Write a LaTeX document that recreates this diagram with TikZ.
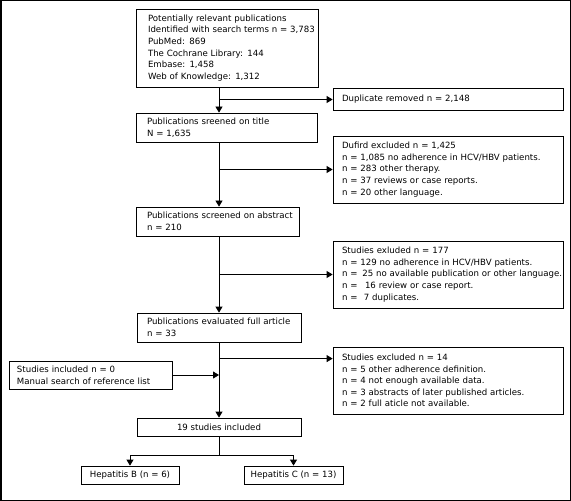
\documentclass[tikz,border=0pt]{standalone}
\usepackage{fontspec}
\setmainfont{DejaVu Sans}
\usetikzlibrary{arrows.meta}
\begin{document}
\begin{tikzpicture}[x=1bp,y=-1bp,
  font=\fontsize{8.6bp}{11.6bp}\selectfont,
  box/.style={draw, line width=0.8bp, inner ysep=0pt, align=left},
  cbox/.style={draw, line width=0.8bp, inner sep=0pt, align=center},
  arr/.style={draw, line width=0.8bp, -{Triangle[length=6bp,width=7bp]}},
  ln/.style={draw, line width=0.8bp}]
\useasboundingbox (0,0) rectangle (571,501);
\draw[line width=1.5bp] (0.75,0.75) rectangle (570.25,500.25);

\node[box, minimum width=182bp, minimum height=78bp, text width=158bp, inner xsep=12bp] (b1) at (227,48)
  {Potentially relevant publications\\
   \mbox{Identified with search terms n = 3,783}\\
   PubMed: 869\\
   The Cochrane Library: 144\\
   Embase: 1,458\\
   Web of Knowledge: 1,312};
\node[box, minimum width=230bp, minimum height=22bp, text width=212bp, inner xsep=9bp] (dup) at (448,99.5)
  {Duplicate removed n = 2,148};
\node[box, minimum width=181bp, minimum height=29bp, text width=159bp, inner xsep=11bp] (b2) at (226.5,127.5)
  {Publications sreened on title\\ N = 1,635};
\node[box, minimum width=230bp, minimum height=67bp, text width=212bp, inner xsep=9bp] (duf) at (448,169.5)
  {Dufird excluded n = 1,425\\
   \mbox{n = 1,085 no adherence in HCV/HBV patients.}\\
   n = 283 other therapy.\\
   n = 37 reviews or case reports.\\
   n = 20 other language.};
\node[box, minimum width=163bp, minimum height=29bp, text width=141bp, inner xsep=11bp] (b3) at (217.5,221.5)
  {\mbox{Publications screened on abstract}\\ n = 210};
\node[box, minimum width=230bp, minimum height=67bp, text width=212bp, inner xsep=9bp] (ex1) at (448,274.5)
  {Studies exluded n = 177\\
   \mbox{n = 129 no adherence in HCV/HBV patients.}\\
   \mbox{n =\hspace{4.8bp}25 no available publication or other language.}\\
   n =\hspace{7.5bp}16 review or case report.\\
   n =\hspace{6.3bp}7 duplicates.};
\node[box, minimum width=164bp, minimum height=29bp, text width=144bp, inner xsep=10bp] (b4) at (219,327.5)
  {\mbox{Publications evaluated full article}\\ n = 33};
\node[box, minimum width=230bp, minimum height=67bp, text width=212bp, inner xsep=9bp] (ex2) at (448,380.5)
  {Studies excluded n = 14\\
   n = 5 other adherence definition.\\
   n = 4 not enough available data.\\
   \mbox{n = 3 abstracts of later published articles.}\\
   n = 2 full aticle not available.};
\node[box, minimum width=163bp, minimum height=28bp, text width=147bp, inner xsep=8bp] (inc) at (90.5,375)
  {Studies included n = 0\\ \mbox{Manual search of reference list}};
\node[cbox, minimum width=164bp, minimum height=18bp] (b5) at (219,427) {19 studies included};
\node[cbox, minimum width=98bp, minimum height=18bp] (hepb) at (130,475) {Hepatitis B (n = 6)};
\node[cbox, minimum width=99bp, minimum height=18bp] (hepc) at (293.5,475) {Hepatitis C (n = 13)};

\coordinate (t) at (219,0);
\draw[arr] (b1.south -| t) -- (b2.north -| t);
\draw[arr] (t |- dup.west) -- (dup.west);
\draw[arr] (b2.south -| t) -- (b3.north -| t);
\draw[arr] (t |- duf.west) -- (duf.west);
\draw[arr] (b3.south -| t) -- (b4.north -| t);
\draw[arr] (t |- ex1.west) -- (ex1.west);
\draw[arr] (b4.south -| t) -- (b5.north -| t);
\coordinate (e2) at ([yshift=-12bp]ex2.north west);
\draw[arr] (t |- e2) -- (e2);
\draw[arr] (inc.east) -- (inc.east -| t);
\draw[ln] (b5.south -| t) -- ++(0,19) coordinate (s);
\draw[arr] (s) -| (hepb.north);
\draw[arr] (s) -| (hepc.north);
\end{tikzpicture}
\end{document}
